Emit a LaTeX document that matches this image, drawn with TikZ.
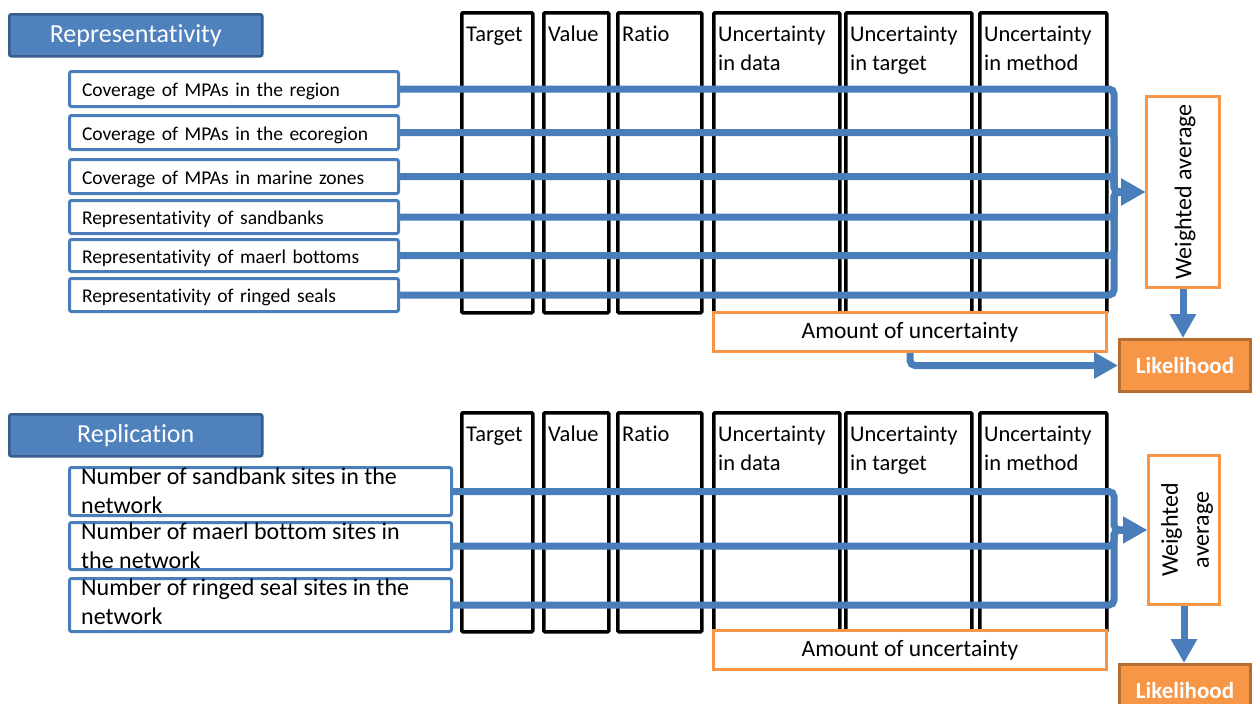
\documentclass[tikz,border=0pt]{standalone}
\usepackage{fontspec}
\setmainfont{Carlito}[Ligatures={NoCommon,NoContextual}]
\usetikzlibrary{arrows.meta}
\definecolor{lineblue}{HTML}{4A7EBB}
\definecolor{headblue}{HTML}{4F81BD}
\definecolor{headedge}{HTML}{385D8A}
\definecolor{orangef}{HTML}{F79646}
\definecolor{orangeedge}{HTML}{B66D31}
\begin{document}
\begin{tikzpicture}[x=1pt,y=-1pt,
  header/.style={draw=headedge, line width=2.5pt, fill=headblue, rounded corners=2pt, text=white,
    font=\fontsize{26}{30}\selectfont, anchor=north west, inner sep=0pt},
  colbox/.style={draw=black, line width=3.5pt, rounded corners=1pt, anchor=north west, inner sep=0pt},
  coltext/.style={anchor=north west, inner sep=0pt, align=left, font=\fontsize{22.5}{29}\selectfont},
  rowbox/.style={draw=lineblue, fill=white, line width=3pt, rounded corners=2pt, anchor=north west,
    inner xsep=12.5pt, inner ysep=0pt, text width=304pt, align=left, text height=15pt, text depth=0pt,
    minimum width=329pt, font=\fontsize{19.5}{24}\selectfont},
  rowbox2/.style={draw=lineblue, fill=white, line width=3pt, rounded corners=2pt, anchor=north west,
    inner sep=0pt, minimum width=382pt},
  rowtext2/.style={anchor=north west, inner sep=0pt, align=left,
    font=\fontsize{24}{29}\selectfont},
  wabox/.style={draw=orangef, fill=white, line width=3pt, anchor=north west, inner sep=0pt},
  watext/.style={rotate=90, inner sep=0pt, align=center, font=\fontsize{24}{31}\selectfont},
  likbox/.style={draw=orangeedge, fill=orangef, line width=3pt, anchor=north west, inner sep=0pt,
    text=white, font=\fontsize{23}{26}\selectfont\bfseries, minimum width=131pt, minimum height=52pt},
  ambox/.style={draw=orangef, fill=white, line width=3pt, anchor=north west, inner sep=0pt,
    font=\fontsize{23.5}{29}\selectfont, minimum width=393pt, minimum height=39pt},
  link/.style={draw=lineblue, line width=7pt, rounded corners=5pt, -{Triangle[length=24pt,width=25pt]}}
]
\useasboundingbox (0,0) rectangle (1253,704);
\clip (0,0) rectangle (1253,704);
\fill[white] (0,0) rectangle (1253,704);

% ---------- headers ----------
\node[header, minimum width=253pt, minimum height=42pt] (h1) at (8,13) {Representativity};
\node[header, minimum width=253pt, minimum height=42pt] (h2) at (8,413) {Replication};

% ---------- columns ----------
\foreach \n/\x/\w/\t in {a/460/71/Target, b/542/65/Value, c/616/84/Ratio,
   d/712/126/{Uncertainty\\in data}, e/844/126/{Uncertainty\\in target}, f/978/127/{Uncertainty\\in method}}{
  \node[colbox, minimum width=\w pt, minimum height=300pt] (c1\n) at (\x,11) {};
  \node[coltext] (ct1\n) at ([xshift=6pt,yshift=-9.7pt]c1\n.north west) {\strut\t};
  \node[colbox, minimum width=\w pt, minimum height=219pt] (c2\n) at (\x,411) {};
  \node[coltext] (ct2\n) at ([xshift=6pt,yshift=-9.7pt]c2\n.north west) {\strut\t};
}

% ---------- top rows ----------
\node[rowbox, minimum height=35pt] (r1) at (68,70) {Coverage of MPAs in the region};
\node[rowbox, minimum height=34pt] (r2) at (68,114) {Coverage of MPAs in the ecoregion};
\node[rowbox, minimum height=34pt] (r3) at (68,158) {Coverage of MPAs in marine zones};
\node[rowbox, minimum height=33pt] (r4) at (68,199) {Representativity of sandbanks};
\node[rowbox, minimum height=32pt] (r5) at (68,238) {Representativity of maerl bottoms};
\node[rowbox, minimum height=33pt] (r6) at (68,277) {Representativity of ringed seals};

% ---------- bottom rows ----------
\node[rowbox2, minimum height=48pt] (s1) at (68,466) {};
\node[rowbox2, minimum height=47pt] (s2) at (68,521) {};
\node[rowbox2, minimum height=53pt] (s3) at (68,577) {};
\node[rowtext2] (st1) at ([xshift=13pt,yshift=2.3pt]s1.north west) {\strut Number of sandbank sites in the\\network};
\node[rowtext2] (st2) at ([xshift=13pt,yshift=2.3pt]s2.north west) {\strut Number of maerl bottom sites in\\the network};
\node[rowtext2] (st3) at ([xshift=13pt,yshift=2.3pt]s3.north west) {\strut Number of ringed seal sites in the\\network};

% ---------- weighted average, amount, likelihood ----------
\node[wabox, minimum width=73pt, minimum height=191pt] (wa1) at (1145,95) {};
\node[watext] (wt1) at ([xshift=2pt]wa1.center) {Weighted average};
\node[wabox, minimum width=71pt, minimum height=149pt] (wa2) at (1147,454) {};
\node[watext] (wt2) at ([xshift=3pt]wa2.center) {Weighted\\average};

\node[ambox] (am1) at (712,311) {Amount of uncertainty};
\node[ambox] (am2) at (712,629) {Amount of uncertainty};

\node[likbox] (lk1) at (1118,338) {Likelihood};
\node[likbox] (lk2) at (1118,663) {Likelihood};

% ---------- connectors ----------
\coordinate (j1) at ([xshift=-31pt]wa1.west);
\coordinate (j2) at ([xshift=-33pt]wa2.west);
\foreach \r in {r1,r2,r3,r4,r5,r6}{
  \draw[link] (\r.east) -| (j1) -- (wa1.west);
}
\foreach \r in {s1,s2,s3}{
  \draw[link] (\r.east) -| (j2) -- (wa2.west);
}
\draw[link] (wa1.south) -- (wa1.south |- lk1.north);
\draw[link] (wa2.south) -- (wa2.south |- lk2.north);
\draw[link] (am1.south) |- (lk1.west);
\end{tikzpicture}
\end{document}
